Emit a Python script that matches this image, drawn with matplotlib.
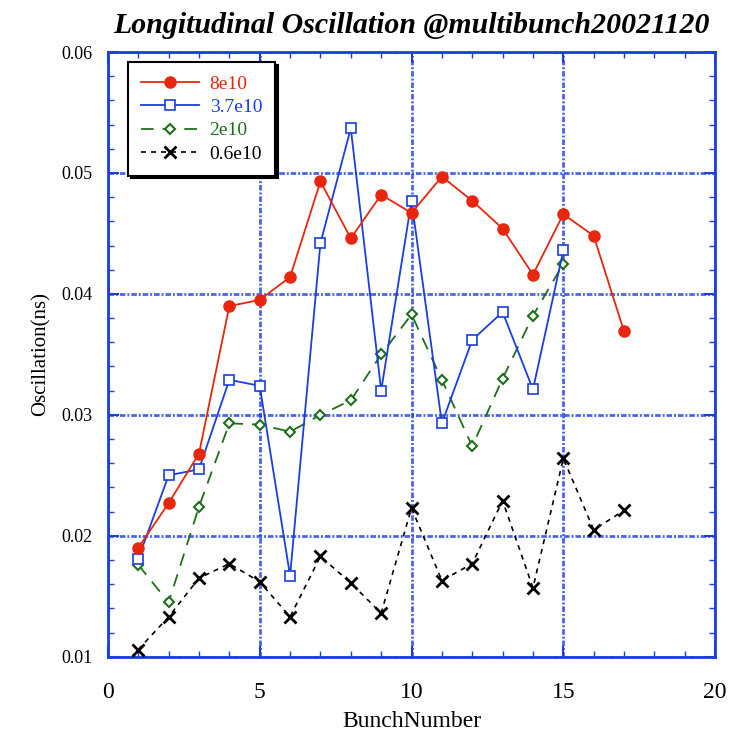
import matplotlib.pyplot as plt
from matplotlib.ticker import MultipleLocator

bunch_8e10 = list(range(1, 18))
osc_8e10 = [0.0190, 0.0227, 0.0268, 0.0390, 0.0395, 0.0414, 0.0493, 0.0446, 0.0482,
            0.0467, 0.0497, 0.0477, 0.0454, 0.0416, 0.0466, 0.0448, 0.0369]

bunch_37e10 = list(range(1, 16))
osc_37e10 = [0.0181, 0.0250, 0.0255, 0.0329, 0.0324, 0.0167, 0.0442, 0.0537, 0.0320,
             0.0477, 0.0293, 0.0362, 0.0385, 0.0321, 0.0436]

bunch_2e10 = list(range(1, 16))
osc_2e10 = [0.0176, 0.0145, 0.0224, 0.0293, 0.0292, 0.0286, 0.0300, 0.0312, 0.0350,
            0.0383, 0.0329, 0.0274, 0.0330, 0.0382, 0.0425]

bunch_06e10 = list(range(1, 18))
osc_06e10 = [0.0106, 0.0133, 0.0165, 0.0177, 0.0162, 0.0133, 0.0183, 0.0161, 0.0136,
             0.0223, 0.0163, 0.0177, 0.0229, 0.0157, 0.0264, 0.0205, 0.0221]

serif = 'Liberation Serif'

fig = plt.figure(figsize=(7.29, 7.33), dpi=100)
ax = fig.add_axes([0.148, 0.104, 0.833, 0.825])

ax.plot(bunch_8e10, osc_8e10, color='#e8260e', marker='o', markersize=8,
        linewidth=1.3, label='8e10', zorder=5)
ax.plot(bunch_37e10, osc_37e10, color='#1a3ee0', marker='s', markersize=7,
        markerfacecolor='white', markeredgewidth=1.2, linewidth=1.3, label='3.7e10', zorder=4)
ax.plot(bunch_2e10, osc_2e10, color='#1f6e1a', marker='D', markersize=5,
        markerfacecolor='white', markeredgewidth=1.5, linewidth=1.3,
        linestyle=(0, (7, 5)), label='2e10', zorder=3)
ax.plot(bunch_06e10, osc_06e10, color='black', marker='x', markersize=8,
        markeredgewidth=2, linewidth=1.2, linestyle=(0, (3, 3)), label='0.6e10', zorder=3)

ax.set_xlim(0, 20)
ax.set_ylim(0.01, 0.06)
ax.xaxis.set_major_locator(MultipleLocator(5))
ax.xaxis.set_minor_locator(MultipleLocator(1))
ax.yaxis.set_major_locator(MultipleLocator(0.01))
ax.yaxis.set_minor_locator(MultipleLocator(0.002))
ax.tick_params(which='both', direction='in', top=True, right=True, color='#1a3ee0')
ax.tick_params(which='major', length=8, width=1.5)
ax.tick_params(which='minor', length=4, width=1)
ax.tick_params(axis='x', labelsize=17, pad=18)
ax.tick_params(axis='y', labelsize=13, pad=11)
for lab in ax.get_xticklabels() + ax.get_yticklabels():
    lab.set_family(serif)

for sp in ax.spines.values():
    sp.set_color('#1a3ee0')
    sp.set_linewidth(2)

ax.grid(True, which='major', color='#1a3ee0', linestyle=(0, (2, 0.7, 0.7, 0.7)),
        linewidth=2, alpha=0.8)
ax.set_axisbelow(True)

ax.set_xlabel('BunchNumber', fontsize=17, family=serif, labelpad=6)
ax.set_ylabel('Oscillation(ns)', fontsize=15, family=serif, labelpad=8)
ax.set_title('Longitudinal Oscillation @multibunch20021120', fontsize=21.5,
             family=serif, fontweight='bold', fontstyle='italic', pad=14)

leg = ax.legend(loc='upper left', bbox_to_anchor=(0.033, 0.983), borderaxespad=0,
                frameon=True, fancybox=False, shadow={'color': 'black', 'alpha': 1},
                edgecolor='black', prop={'family': serif, 'size': 14},
                handlelength=3.0, handletextpad=0.55, borderpad=0.65, labelspacing=0.3)
leg.get_frame().set_linewidth(1.5)
for txt, line in zip(leg.get_texts(), leg.get_lines()):
    txt.set_color(line.get_color())

fig.savefig('out.png', dpi=100)
